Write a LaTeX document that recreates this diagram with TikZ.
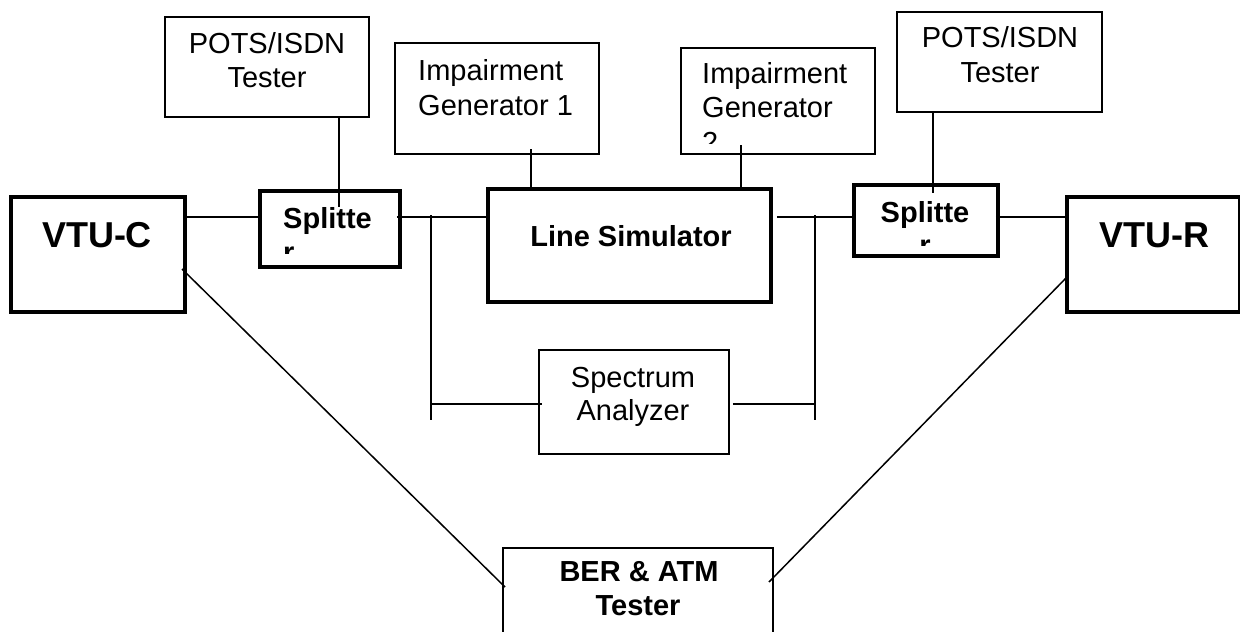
\documentclass[tikz,border=0pt]{standalone}
\usepackage{fontspec}
\setmainfont{Liberation Sans}
\usetikzlibrary{fit}
\begin{document}
\begin{tikzpicture}[x=1pt,y=-1pt,
  thinbox/.style={draw,line width=1.5pt,inner sep=0pt},
  thickbox/.style={draw,line width=3.5pt,inner sep=0pt},
  wire/.style={line width=1.5pt},
  txt/.style={inner sep=0pt,font=\fontsize{29}{34}\selectfont},
  btxt/.style={inner sep=0pt,font=\fontsize{29}{34}\selectfont\bfseries},
  big/.style={inner sep=0pt,font=\fontsize{36}{40}\selectfont\bfseries}]
\useasboundingbox[fill=white] (0,0) rectangle (1240,632);

% boxes
\node[thinbox,fit={(165,17) (369,117)}] (potsL) {};
\node[thinbox,fit={(897,12) (1102,112)}] (potsR) {};
\node[thinbox,fit={(395,43) (599,154)}] (ig1) {};
\node[thinbox,fit={(681,48) (875,154)}] (ig2) {};
\node[thickbox,fit={(11,197) (185,312)}] (vtuc) {};
\node[thickbox,fit={(1067,197) (1240,312)}] (vtur) {};
\node[thickbox,fit={(260,191) (400,267)}] (splitL) {};
\node[thickbox,fit={(854,185) (998,256)}] (splitR) {};
\node[thickbox,fit={(488,189) (771,302)}] (linesim) {};
\node[thinbox,fit={(539,350) (729,454)}] (spec) {};
\node[thinbox,fit={(503,548) (773,660)}] (ber) {};

% texts
\node[txt,anchor=base] (potsLa) at (267,53) {POTS/ISDN};
\node[txt,anchor=base] (potsLb) at (267,87) {Tester};
\node[txt,anchor=base] (potsRa) at (1000,47) {POTS/ISDN};
\node[txt,anchor=base] (potsRb) at (1000,82) {Tester};
\node[txt,anchor=base west] (ig1a) at (418,80) {Impairment};
\node[txt,anchor=base west] (ig1b) at (418,115) {Generator 1};
\node[txt,anchor=base west] (ig2a) at (702,83) {Impairment};
\node[txt,anchor=base west] (ig2b) at (702,117) {Generator};
\begin{scope}
  \clip (690,120) rectangle (870,143);
  \node[txt,anchor=base west] (ig2c) at (702,152) {2};
\end{scope}
\node[big,anchor=base] (vtuct) at (97,247) {VTU-C};
\node[big,anchor=base] (vturt) at (1154,247) {VTU-R};
\node[btxt,anchor=base west] (splitLa) at (283,228) {Splitte};
\begin{scope}
  \clip (265,235) rectangle (395,253);
  \node[btxt,anchor=base west] (splitLb) at (283,262) {r};
\end{scope}
\node[btxt,anchor=base] (splitRa) at (925,222) {Splitte};
\begin{scope}
  \clip (860,228) rectangle (990,245);
  \node[btxt,anchor=base] (splitRb) at (925,255) {r};
\end{scope}
\node[btxt,anchor=base] (linesimt) at (631,246) {Line Simulator};
\node[txt,anchor=base] (speca) at (633,387) {Spectrum};
\node[txt,anchor=base] (specb) at (633,420) {Analyzer};
\node[btxt,anchor=base] (bera) at (639,581) {BER \& ATM};
\node[btxt,anchor=base] (berb) at (638,615) {Tester};

% named points
\coordinate (bus) at (0,217);
\coordinate (pl) at (339,207);
\coordinate (pr) at (933,193);
\coordinate (g1) at (531,149);
\coordinate (g2) at (741,145);
\coordinate (tl) at (431,215);
\coordinate (tlb) at (431,420);
\coordinate (tlh) at (431,404);
\coordinate (tr) at (815,215);
\coordinate (trb) at (815,420);
\coordinate (trh) at (815,404);
\coordinate (dc) at (182,269);
\coordinate (dbl) at (505,587);
\coordinate (dr) at (1066,278);
\coordinate (dbr) at (769,582);

% connectors
\draw[wire] (vtuc.east |- bus) -- (splitL.west |- bus);
\draw[wire] ([xshift=-5pt]splitL.east |- bus) -- (linesim.west |- bus);
\draw[wire] ([xshift=4pt]linesim.east |- bus) -- (splitR.west |- bus);
\draw[wire] ([xshift=-4pt]splitR.east |- bus) -- (vtur.west |- bus);
\draw[wire] (potsL.south -| pl) -- (pl);
\draw[wire] (potsR.south -| pr) -- (pr);
\draw[wire] (g1) -- (linesim.north -| g1);
\draw[wire] (g2) -- (linesim.north -| g2);
\draw[wire] (tl) -- (tlb);
\draw[wire] (tlh) -- ([xshift=4pt]spec.west |- tlh);
\draw[wire] (tr) -- (trb);
\draw[wire] ([xshift=3pt]spec.east |- trh) -- (trh);
\draw[wire] (dc) -- (dbl);
\draw[wire] (dr) -- (dbr);
\end{tikzpicture}
\end{document}
